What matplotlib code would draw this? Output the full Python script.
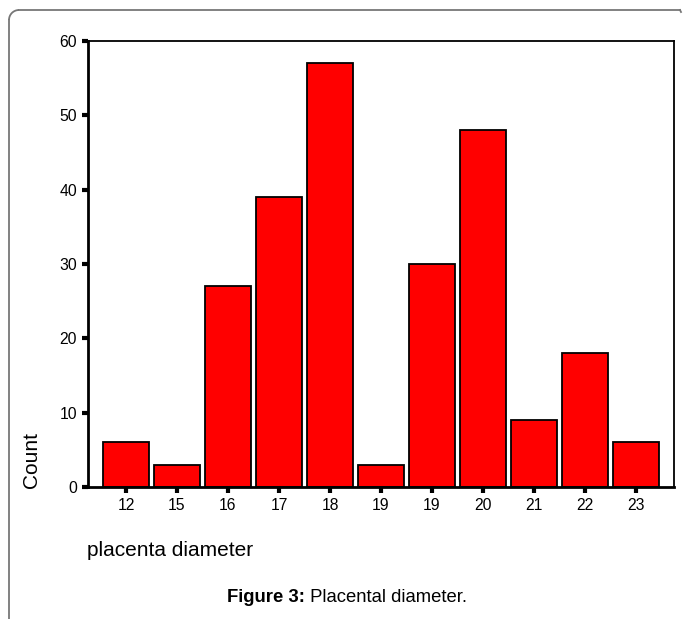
import matplotlib.pyplot as plt
import numpy as np
from matplotlib.patches import Arc

categories = ['12', '15', '16', '17', '18', '19', '19', '20', '21', '22', '23']
counts = [6, 3, 27, 39, 57, 3, 30, 48, 9, 18, 6]
yticks = [0, 10, 20, 30, 40, 50, 60]

W, H = 683, 619
fig = plt.figure(figsize=(W / 100, H / 100), dpi=100)
plt.rcParams['font.family'] = ['Liberation Sans', 'DejaVu Sans']

# axes box in pixel coordinates: left 88, right 674, top 41, bottom 487
ax = fig.add_axes([88 / W, 1 - 487 / H, (674 - 88) / W, (487 - 41) / H])
x = np.arange(len(categories))
ax.bar(x, counts, width=0.92, color='#ff0000', edgecolor='black', linewidth=1.3, zorder=2)
ax.set_xlim(-0.745, len(categories) - 1 + 0.745)
ax.set_ylim(0, 60)
ax.set_xticks(x)
ax.set_xticklabels(categories)
ax.set_yticks(yticks)
ax.tick_params(axis='both', direction='out', length=4, width=3, labelsize=11.3, pad=4)
for s in ax.spines.values():
    s.set_linewidth(1.3)
ax.spines['left'].set_linewidth(2)
ax.spines['bottom'].set_linewidth(2)

fig.text(31 / W, 1 - 460 / H, 'Count', rotation=90, ha='center', va='center', fontsize=15)
fig.text(87 / W, 1 - 551 / H, 'placenta diameter', ha='left', va='center', fontsize=15)

# caption: bold prefix + normal text, centred as one line
cy = 1 - 598 / H
t1 = fig.text(0, cy, 'Figure 3:', ha='left', va='center', fontsize=13.3, weight='bold')
t2 = fig.text(0, cy, ' Placental diameter.', ha='left', va='center', fontsize=13.3)
fig.canvas.draw()
r = fig.canvas.get_renderer()
w1 = t1.get_window_extent(r).width
w2 = t2.get_window_extent(r).width
x0 = 347 - (w1 + w2) / 2
t1.set_x(x0 / W)
t2.set_x((x0 + w1) / W)

# gray outer frame with rounded top-left corner
fc = '#777777'
rr = 10
fig.add_artist(plt.Line2D([(9 + rr) / W, 680 / W], [1 - 10 / H, 1 - 10 / H],
                          transform=fig.transFigure, color=fc, lw=1.3))
fig.add_artist(plt.Line2D([680 / W, 681 / W], [1 - 10 / H, 1 - 12 / H],
                          transform=fig.transFigure, color=fc, lw=1.3))
fig.add_artist(plt.Line2D([9 / W, 9 / W], [1 - (10 + rr) / H, 0],
                          transform=fig.transFigure, color=fc, lw=1.3))
arc = Arc(((9 + rr) / W, 1 - (10 + rr) / H), 2 * rr / W, 2 * rr / H, theta1=90, theta2=180,
          transform=fig.transFigure, color=fc, lw=1.3)
fig.add_artist(arc)

plt.savefig('out.png', dpi=100)
